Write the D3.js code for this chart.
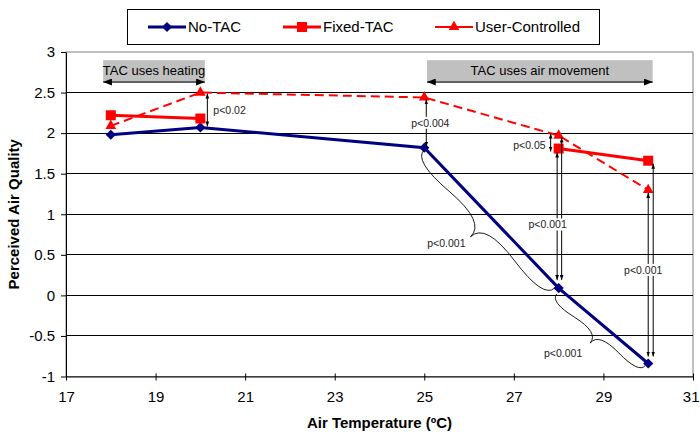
<!DOCTYPE html>
<html>
<head>
<meta charset="utf-8">
<script src="https://cdn.jsdelivr.net/npm/d3@7"></script>
<style>
  body { margin: 0; background: #fff; }
  svg text { font-family: "Liberation Sans", Arial, sans-serif; }
</style>
</head>
<body>
<div id="chart"></div>
<script>
// data
const temps = [18, 20, 25, 28, 30];
const noTac = [1.98, 2.07, 1.82, 0.09, -0.84];
const fixedTac = [2.22, 2.18, null, 1.81, 1.66];
const userControlled = [2.09, 2.5, 2.44, 1.97, 1.3];
const seriesNames = ["No-TAC", "Fixed-TAC", "User-Controlled"];
const xTicks = [17, 19, 21, 23, 25, 27, 29, 31];
const yTicks = [-1, -0.5, 0, 0.5, 1, 1.5, 2, 2.5, 3];
const phaseLabels = ["TAC uses heating", "TAC uses air movement"];
const phaseRanges = [[17.83, 20.1], [25.06, 30.1]];
const pLabels = ["p<0.02", "p<0.004", "p<0.05", "p<0.001", "p<0.001", "p<0.001", "p<0.001"];

const margin = { top: 52, right: 7, bottom: 57.5, left: 66 },
      width = 700 - margin.left - margin.right,
      height = 434 - margin.top - margin.bottom;

const svg = d3.select("#chart")
  .append("svg")
    .attr("width", 700)
    .attr("height", 434);

const g = svg.append("g")
  .attr("transform", `translate(${margin.left},${margin.top})`);

const x = d3.scaleLinear().domain([17, 31]).range([0, width]);
const y = d3.scaleLinear().domain([-1, 3]).range([height, 0]);

const series = [
  { name: seriesNames[0], values: noTac, color: "#000080", w: 3, dash: null, shape: "diamond" },
  { name: seriesNames[1], values: fixedTac, color: "#ff0000", w: 3, dash: null, shape: "square" },
  { name: seriesNames[2], values: userControlled, color: "#ff0000", w: 2, dash: "9,5", shape: "triangle" }
];
const val = (name, t) => series.find(s => s.name === name).values[temps.indexOf(t)];

// arrow heads
const defs = svg.append("defs");
defs.append("marker")
    .attr("id", "tip")
    .attr("viewBox", "0 0 8 6").attr("refX", 8).attr("refY", 3)
    .attr("markerWidth", 5).attr("markerHeight", 4)
    .attr("markerUnits", "userSpaceOnUse")
    .attr("orient", "auto-start-reverse")
  .append("path").attr("d", "M0,0L8,3L0,6Z").attr("fill", "#000");
defs.append("marker")
    .attr("id", "bigtip")
    .attr("viewBox", "0 0 10 8").attr("refX", 10).attr("refY", 4)
    .attr("markerWidth", 9).attr("markerHeight", 7)
    .attr("markerUnits", "userSpaceOnUse")
    .attr("orient", "auto-start-reverse")
  .append("path").attr("d", "M0,0L10,4L0,8Z").attr("fill", "#000");

// grid + frame
g.append("rect")
  .attr("width", width).attr("height", height)
  .attr("fill", "none").attr("stroke", "#808080");

g.append("g").selectAll("line")
  .data(yTicks.filter(v => v > -1 && v < 3))
  .join("line")
    .attr("x1", 0).attr("x2", width)
    .attr("y1", d => y(d)).attr("y2", d => y(d))
    .attr("stroke", "#000")
    .attr("shape-rendering", "crispEdges");

// axes
const yAxis = g.append("g")
  .call(d3.axisLeft(y).tickValues(yTicks).tickSize(5).tickPadding(6).tickSizeOuter(0).tickFormat(d => String(d)));
const xAxis = g.append("g")
  .attr("transform", `translate(0,${height})`)
  .call(d3.axisBottom(x).tickValues(xTicks).tickSize(4).tickPadding(11).tickSizeOuter(0).tickFormat(d => String(d)));
xAxis.selectAll(".tick line").attr("y1", -3);
[xAxis, yAxis].forEach(a => {
  a.attr("font-size", null).attr("font-family", null);
  a.selectAll("text").style("font-size", "15px").attr("fill", "#000");
  a.selectAll("line, path").attr("stroke", "#000");
});
// last label sits against the right edge
xAxis.selectAll(".tick text").filter(d => d === 31)
  .attr("text-anchor", "end").attr("x", 6);

svg.append("text")
  .attr("x", margin.left + width / 2)
  .attr("y", 428)
  .attr("text-anchor", "middle")
  .style("font-size", "15px").style("font-weight", "bold")
  .text("Air Temperature (ºC)");

svg.append("text")
  .attr("transform", `translate(19,${margin.top + height / 2}) rotate(-90)`)
  .attr("text-anchor", "middle")
  .style("font-size", "15px").style("font-weight", "bold")
  .text("Perceived Air Quality");

// phase boxes
phaseRanges.forEach((r, i) => {
  const x0 = x(r[0]), x1 = x(r[1]);
  g.append("rect")
    .attr("x", x0).attr("y", y(2.9))
    .attr("width", x1 - x0).attr("height", y(2.62) - y(2.9))
    .attr("fill", "#c0c0c0");
  g.append("line")
    .attr("x1", x0).attr("x2", x1)
    .attr("y1", y(2.63)).attr("y2", y(2.63))
    .attr("stroke", "#000")
    .attr("marker-start", "url(#bigtip)")
    .attr("marker-end", "url(#bigtip)");
  g.append("text")
    .attr("x", (x0 + x1) / 2)
    .attr("y", (y(2.9) + y(2.62)) / 2 - 1)
    .attr("dy", "0.35em")
    .attr("text-anchor", "middle")
    .style("font-size", "13px")
    .text(phaseLabels[i]);
});

// series
const line = d3.line()
  .defined(d => d.v != null)
  .x(d => x(d.t))
  .y(d => y(d.v));

const symbolFor = shape => {
  if (shape === "square") return d3.symbol(d3.symbolSquare, 100)();
  if (shape === "triangle") return d3.symbol(d3.symbolTriangle, 50)();
  return d3.symbol(d3.symbolSquare, 52)();
};
const rotFor = shape => shape === "diamond" ? " rotate(45)" : "";

series.forEach(s => {
  const pts = temps.map((t, i) => ({ t, v: s.values[i] }));
  g.append("path")
    .attr("d", line(pts))
    .attr("fill", "none")
    .attr("stroke", s.color)
    .attr("stroke-width", s.w)
    .attr("stroke-dasharray", s.dash);
  g.selectAll(null)
    .data(pts.filter(d => d.v != null))
    .join("path")
      .attr("d", symbolFor(s.shape))
      .attr("transform", d => `translate(${x(d.t)},${y(d.v)})${rotFor(s.shape)}`)
      .attr("fill", s.color);
});

// significance arrows
const arrow = (t, dx, a, b, insetA, insetB) => {
  const xx = x(t) + dx;
  const ya = y(val(a, t)) + insetA, yb = y(val(b, t)) - insetB;
  g.append("line")
    .attr("x1", xx).attr("x2", xx).attr("y1", ya).attr("y2", yb)
    .attr("stroke", "#000")
    .attr("marker-start", "url(#tip)")
    .attr("marker-end", "url(#tip)");
  return { x: xx, mid: (ya + yb) / 2 };
};
const pText = (px, py, label, anchor, bg) => {
  const t = g.append("text")
    .attr("x", px).attr("y", py)
    .attr("dy", "0.35em")
    .attr("text-anchor", anchor)
    .style("font-size", "10.5px")
    .attr("fill", "#222")
    .text(label);
  if (bg) {
    const bb = t.node().getBBox();
    g.insert("rect", () => t.node())
      .attr("x", bb.x - 1).attr("y", bb.y)
      .attr("width", bb.width + 2).attr("height", bb.height)
      .attr("fill", "#fff");
  }
};

const a1 = arrow(20, 7, "User-Controlled", "No-TAC", 1, 1);
pText(a1.x + 6, a1.mid, pLabels[0], "start", false);

const a2 = arrow(25, 2, "User-Controlled", "No-TAC", 2, 1);
pText(a2.x + 4, a2.mid, pLabels[1], "middle", true);

const a3 = arrow(28, -8, "User-Controlled", "Fixed-TAC", -2, -3);
pText(a3.x - 5, a3.mid + 3, pLabels[2], "end", false);

arrow(28, -1.5, "Fixed-TAC", "No-TAC", 4, 8);
arrow(28, 3, "User-Controlled", "No-TAC", 2, 8);
pText(x(28) - 11, y(0.87), pLabels[3], "middle", true);

arrow(30, 0, "User-Controlled", "No-TAC", 3, 7);
arrow(30, 5, "Fixed-TAC", "No-TAC", 3, 7);
pText(x(30) - 5, y(0.31), pLabels[4], "middle", true);

// curly braces along the No-TAC drop
function brace(x1, y1, x2, y2, w, q) {
  let dx = x1 - x2, dy = y1 - y2;
  const len = Math.sqrt(dx * dx + dy * dy);
  dx /= len; dy /= len;
  const qx1 = x1 + q * w * dy, qy1 = y1 - q * w * dx;
  const qx2 = (x1 - .25 * len * dx) + (1 - q) * w * dy, qy2 = (y1 - .25 * len * dy) - (1 - q) * w * dx;
  const tx = (x1 - .5 * len * dx) + w * dy, ty = (y1 - .5 * len * dy) - w * dx;
  const qx3 = x2 + q * w * dy, qy3 = y2 - q * w * dx;
  const qx4 = (x1 - .75 * len * dx) + (1 - q) * w * dy, qy4 = (y1 - .75 * len * dy) - (1 - q) * w * dx;
  g.append("path")
    .attr("d", `M${x1},${y1}Q${qx1},${qy1} ${qx2},${qy2}T${tx},${ty}M${x2},${y2}Q${qx3},${qy3} ${qx4},${qy4}T${tx},${ty}`)
    .attr("fill", "none")
    .attr("stroke", "#000")
    .attr("stroke-width", 0.9);
  return { x: tx, y: ty };
}

const b1 = brace(x(25), y(val("No-TAC", 25)) + 2, x(28) - 4, y(val("No-TAC", 28)), 26, 0.6);
pText(b1.x - 5, b1.y + 7, pLabels[5], "end", false);
const b2 = brace(x(28) - 2, y(val("No-TAC", 28)) + 6, x(30) - 3, y(val("No-TAC", 30)) + 2, 17, 0.6);
pText(b2.x - 8, b2.y + 10, pLabels[6], "end", false);

// legend
const lg = svg.append("g");
lg.append("rect")
  .attr("x", 127.5).attr("y", 9.5)
  .attr("width", 472).attr("height", 35)
  .attr("fill", "#fff").attr("stroke", "#000");

const legendX = [148, 283, 435];
const item = lg.selectAll(".legend-item")
  .data(series)
  .join("g")
    .attr("class", "legend-item")
    .attr("transform", (d, i) => `translate(${legendX[i]},27)`);
item.append("line")
  .attr("x1", 0).attr("x2", 38)
  .attr("stroke", d => d.color)
  .attr("stroke-width", d => d.w);
item.append("path")
  .attr("d", d => symbolFor(d.shape))
  .attr("transform", d => `translate(19,0)${rotFor(d.shape)}`)
  .attr("fill", d => d.color);
item.append("text")
  .attr("x", 40)
  .attr("dy", "0.35em")
  .style("font-size", "15px")
  .text(d => d.name);
</script>
</body>
</html>
